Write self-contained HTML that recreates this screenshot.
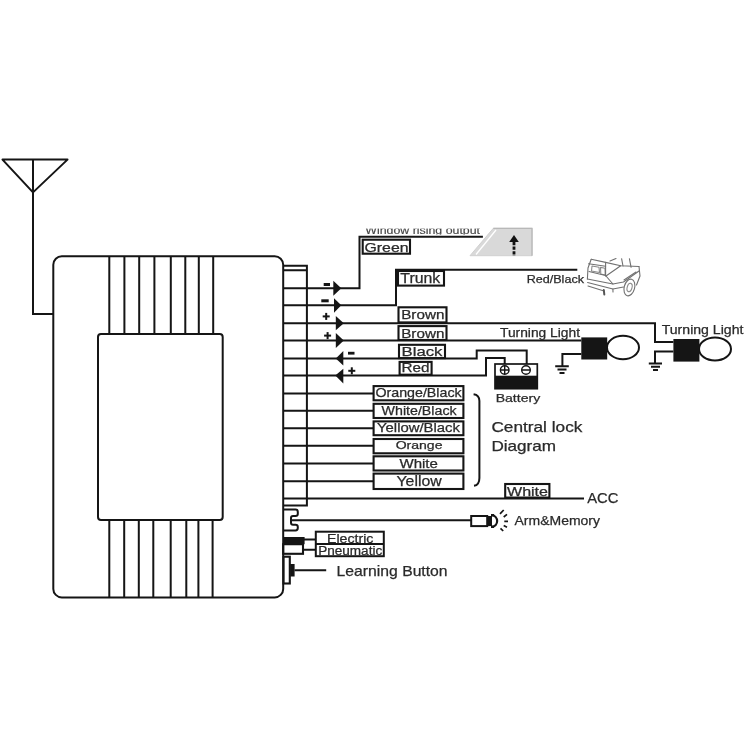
<!DOCTYPE html>
<html><head><meta charset="utf-8">
<style>
html,body{margin:0;padding:0;background:#fff;width:750px;height:750px;overflow:hidden}
svg{display:block;will-change:transform}
text{font-family:"Liberation Sans",sans-serif;fill:#2a2a2a;stroke:#2a2a2a;stroke-width:0.25}
</style></head><body>
<svg width="750" height="750" viewBox="0 0 750 750">
<g fill="none" stroke="#151515" stroke-width="2" stroke-linejoin="miter">
<!-- antenna -->
<path d="M2.5,159.6 L67.5,159.6 L33,192.4 Z" stroke-linejoin="round"/>
<path d="M33,159.6 V314 H53"/>
<!-- main box -->
<rect x="53.3" y="256.3" width="229.9" height="341.1" rx="8.5"/>
<rect x="98" y="334" width="124.7" height="186" rx="3"/>
<path d="M109.3,256.3V334 M124.4,256.3V334 M139.2,256.3V334 M154.4,256.3V334 M170.8,256.3V334 M185.3,256.3V334 M198.8,256.3V334 M213.2,256.3V334"/>
<path d="M109.3,520V597.5 M124.2,520V597.5 M138.8,520V597.5 M153.3,520V597.5 M170.7,520V597.5 M186.3,520V597.5 M198.4,520V597.5 M212.6,520V597.5"/>
<!-- connector -->
<path d="M283.2,265.8 H306.9 V505.4 H283.2 M283.2,270.3 H306.9"/>
<path d="M283.2,393.5H373.6 M283.2,410.7H373.6 M283.2,428.3H373.6 M283.2,445.7H373.6 M283.2,463.6H373.6 M283.2,481.3H373.6"/>
<!-- wire 1 green -->
<path d="M283.2,288.3 H359.5 V236.7 H482.9"/>
<!-- wire 2 trunk -->
<path d="M283.2,305.3 H396 V269.7 H577.3"/>
<!-- wire 3 brown1 -->
<path d="M283.2,323.3 H655 V342 H673.4"/>
<!-- wire 4 brown2 -->
<path d="M283.2,340.4 H581.3"/>
<!-- wire 5 black -->
<path d="M283.2,358.5 H476.7 V350.4 H526.7 V364"/>
<!-- wire 6 red -->
<path d="M283.2,375.6 H486 V358 H504.7 V364"/>
<!-- ACC -->
<path d="M283.2,498.4 H584"/>
<!-- notch -->
<path d="M283.2,509.6 H295.5 Q297.8,509.6 297.8,512 V514 Q297.8,516 295.5,516 H293 Q291,516 291,518 V522.8 Q291,524.8 293,524.8 H295.5 Q297.8,524.8 297.8,527 V528 Q297.8,530.4 295.5,530.4 H283.2"/>
<path d="M291,520.3 H471.2"/>
<!-- labels -->
<rect x="362.7" y="239.7" width="47.3" height="14" stroke-width="2.1"/>
<rect x="398" y="271" width="46" height="14.6" stroke-width="2.1"/>
<rect x="398.5" y="307.3" width="48" height="15.1" stroke-width="2.1"/>
<rect x="398.5" y="326.1" width="48" height="13.9" stroke-width="2.1"/>
<rect x="399" y="344.8" width="46" height="13.3" stroke-width="2.1"/>
<rect x="399.6" y="361.9" width="32" height="12.8" stroke-width="2.1"/>
<rect x="373.6" y="386.1" width="89.8" height="14.2" stroke-width="2.1"/>
<rect x="373.6" y="403.8" width="89.8" height="14.2" stroke-width="2.1"/>
<rect x="373.6" y="421.4" width="89.8" height="13.8" stroke-width="2.1"/>
<rect x="373.6" y="439" width="89.8" height="14.3" stroke-width="2.1"/>
<rect x="373.6" y="456.3" width="89.8" height="14.2" stroke-width="2.1"/>
<rect x="373.6" y="473.6" width="89.8" height="15.4" stroke-width="2.1"/>
<rect x="505.2" y="484" width="44.2" height="13.6" stroke-width="2.1"/>
<!-- bracket -->
<path d="M473.6,394.2 Q479.4,395 479.4,401 V478 Q479.4,485 474,485.8"/>
<!-- battery -->
<rect x="495" y="364" width="42.3" height="24.7" stroke-width="1.7"/>
<circle cx="504.7" cy="370" r="4.3" stroke-width="1.4"/>
<circle cx="526" cy="370" r="4.3" stroke-width="1.4"/>
<path d="M500.4,370H509 M504.7,365.7V374.3 M521.7,370H530.3" stroke-width="1.4"/>
<!-- lamps -->
<ellipse cx="623" cy="347.5" rx="16" ry="11.7"/>
<path d="M581.3,353.9 H562.4 V366.2 M555.2,366.2H568.8 M557.5,369.6H566.5 M559.5,373H564.5"/>
<ellipse cx="715" cy="349" rx="16" ry="11.4"/>
<path d="M673.4,351.5 H655 V363.5 M648.8,363.5H662 M651,366.7H660 M653,370H658"/>
<!-- electric -->
<rect x="283.2" y="544.2" width="19.8" height="9.6" stroke-width="2.1"/>
<path d="M304,539.4H315.8 M303,549.8H315.8"/>
<rect x="315.8" y="531.7" width="68" height="24.5"/>
<path d="M315.8,543.9H383.8"/>
<!-- learning -->
<rect x="283.5" y="556.7" width="6.3" height="26.8" stroke-width="2.1"/>
<path d="M294.5,570.3H326.2"/>
<!-- LED -->
<rect x="471.2" y="516" width="16" height="10.1"/>
</g>
<g fill="#151515">
<!-- arrows -->
<path d="M333.3,280.7 L341.3,288.3 L333.3,295.7 Z"/>
<path d="M334,298.3 L341.3,305.3 L334,312.7 Z"/>
<path d="M335.8,315.9 L343.8,323.3 L335.8,330.3 Z"/>
<path d="M335.8,333 L343.8,340.4 L335.8,347.9 Z"/>
<path d="M343.3,351 L335.8,358.5 L343.3,365.5 Z"/>
<path d="M343.3,368.7 L335.3,375.6 L343.3,383.6 Z"/>
<!-- signs -->
<rect x="323.7" y="283" width="6.3" height="3"/>
<rect x="321.3" y="299.3" width="7.4" height="3"/>
<rect x="322.7" y="315.4" width="7" height="2"/><rect x="325.2" y="312.9" width="2" height="7"/>
<rect x="324.1" y="334.6" width="7" height="2"/><rect x="326.6" y="332.1" width="2" height="7"/>
<rect x="348" y="351.8" width="6.5" height="2.8"/>
<rect x="348.3" y="369.8" width="7" height="2"/><rect x="350.8" y="367.3" width="2" height="7"/>
<!-- battery black -->
<rect x="495" y="375.7" width="42.3" height="13"/>
<!-- lamp rects -->
<rect x="581.3" y="337.4" width="25.9" height="22.1"/>
<rect x="673.4" y="339" width="26" height="22.6"/>
<!-- electric black -->
<rect x="283.2" y="537" width="21.4" height="7.2"/>
<rect x="290.2" y="564" width="4.4" height="12.5"/>
<rect x="487" y="516" width="5" height="10.1"/>
</g>
<!-- window icon -->
<path d="M493.3,228.3 H532 V255.7 H470 Z" fill="#d9d9d9" stroke="#d0d0d0" stroke-width="1"/>
<path d="M493.3,228.3 H532 V255.7" fill="none" stroke="#b8b8b8" stroke-width="1.3"/>
<path d="M496,230 L476,254.5" stroke="#fff" stroke-width="1.3"/>
<path d="M514,235 L518.8,242 H509.2 Z" fill="#111"/>
<path d="M514,242V256" stroke="#111" stroke-width="2.8" stroke-dasharray="3.2 1.4"/>
<!-- LED head -->
<path d="M492,515.2 A5.9,5.9 0 0 1 492,526.9" fill="none" stroke="#151515" stroke-width="2.2"/>
<path d="M491,515.2 H494 M491,526.9 H494" stroke="#151515" stroke-width="2.2"/>
<path d="M500,513.9 L503.7,510 M503.7,517 L507,514.4 M504.3,521.3 H508 M503.7,525.6 L507,527.2 M500.5,528.3 L503.2,531" stroke="#151515" stroke-width="1.7"/>
<!-- car -->
<g fill="none" stroke="#707070" stroke-width="1.1" stroke-linejoin="round" stroke-linecap="round">
<path d="M591.2,259.2 L605.6,262.4 L620.7,265.8 L639,266.5"/>
<path d="M591.2,259.2 L588,268 L587.4,279"/>
<path d="M588.5,263.8 L605.6,266.2"/>
<path d="M592,266 L599,267.2 L599.5,272.5 L591.5,271 Z M600.5,267.4 L605,268.2 L605.2,275 L600.8,274 Z" stroke="#8a8a8a"/>
<path d="M605.6,262.4 V276"/>
<path d="M589,271.5 L605.5,275.5"/>
<path d="M606,276 L620.7,265.8"/>
<path d="M610,261 L616,258.5 M621.6,258.7 L623,266 M629.4,258.7 L631.1,267.3"/>
<path d="M587.4,279 L612.9,284 L623.5,282 L639,271"/>
<path d="M587.6,282.5 L612.9,289 L623.5,287"/>
<path d="M588,286 L604,291"/>
<path d="M606,276 L612.9,284 M612.9,289 L613,292"/>
<path d="M639,266.5 L640,276 L636.5,285"/>
<path d="M624,280 L636,272"/>
<ellipse cx="629.4" cy="287.5" rx="5.2" ry="8.5" transform="rotate(15 629.4 287.5)"/>
<ellipse cx="629.6" cy="287.5" rx="2.4" ry="4.3" transform="rotate(15 629.6 287.5)" stroke="#8a8a8a"/>
<path d="M603.8,290 L604.3,294.5" stroke-width="2" stroke="#555"/>
</g>
<!-- texts -->
<text x="364.5" y="252.2" font-size="13" textLength="44" lengthAdjust="spacingAndGlyphs">Green</text>
<text x="400.3" y="282.8" font-size="14" textLength="40" lengthAdjust="spacingAndGlyphs">Trunk</text>
<text x="401.2" y="319.2" font-size="12.5" textLength="43.2" lengthAdjust="spacingAndGlyphs">Brown</text>
<text x="401.2" y="337.9" font-size="12.5" textLength="43.2" lengthAdjust="spacingAndGlyphs">Brown</text>
<text x="401.5" y="355.6" font-size="12.5" textLength="41" lengthAdjust="spacingAndGlyphs">Black</text>
<text x="401.5" y="372.4" font-size="12.5" textLength="28" lengthAdjust="spacingAndGlyphs">Red</text>
<text x="375.4" y="396.9" font-size="12.8" textLength="86.3" lengthAdjust="spacingAndGlyphs">Orange/Black</text>
<text x="381.6" y="414.5" font-size="12.5" textLength="75" lengthAdjust="spacingAndGlyphs">White/Black</text>
<text x="377" y="432" font-size="12.5" textLength="83" lengthAdjust="spacingAndGlyphs">Yellow/Black</text>
<text x="395.7" y="449" font-size="11" textLength="46.8" lengthAdjust="spacingAndGlyphs">Orange</text>
<text x="399.5" y="467.8" font-size="13" textLength="38.4" lengthAdjust="spacingAndGlyphs">White</text>
<text x="396.5" y="485.9" font-size="14" textLength="45.2" lengthAdjust="spacingAndGlyphs">Yellow</text>
<text x="507" y="496" font-size="13" textLength="41" lengthAdjust="spacingAndGlyphs">White</text>
<text x="500" y="337" font-size="12.5" textLength="80" lengthAdjust="spacingAndGlyphs">Turning Light</text>
<text x="661.7" y="333.5" font-size="12.5" textLength="81.7" lengthAdjust="spacingAndGlyphs">Turning Light</text>
<text x="526.7" y="283.3" font-size="11.3" textLength="57.3" lengthAdjust="spacingAndGlyphs">Red/Black</text>
<text x="495.7" y="401.6" font-size="11.5" textLength="44.5" lengthAdjust="spacingAndGlyphs">Battery</text>
<text x="491.4" y="431.7" font-size="14.4" textLength="91" lengthAdjust="spacingAndGlyphs">Central lock</text>
<text x="491.4" y="450.7" font-size="14.4" textLength="64.7" lengthAdjust="spacingAndGlyphs">Diagram</text>
<text x="587.2" y="503.3" font-size="14.4" textLength="31.2" lengthAdjust="spacingAndGlyphs">ACC</text>
<text x="514.5" y="525.2" font-size="13.6" textLength="85.5" lengthAdjust="spacingAndGlyphs">Arm&amp;Memory</text>
<text x="327" y="542.5" font-size="12" textLength="46.4" lengthAdjust="spacingAndGlyphs">Electric</text>
<text x="318.2" y="554.5" font-size="12" textLength="64" lengthAdjust="spacingAndGlyphs">Pneumatic</text>
<text x="336.6" y="576" font-size="14.8" textLength="111" lengthAdjust="spacingAndGlyphs">Learning Button</text>
<svg x="360" y="228.6" width="125" height="6" overflow="hidden">
<text x="5.3" y="5.8" font-size="11" style="stroke-width:0.15;fill:#444;stroke:#444" textLength="114.7" lengthAdjust="spacingAndGlyphs">Window rising output</text>
</svg>
</svg>
</body></html>
